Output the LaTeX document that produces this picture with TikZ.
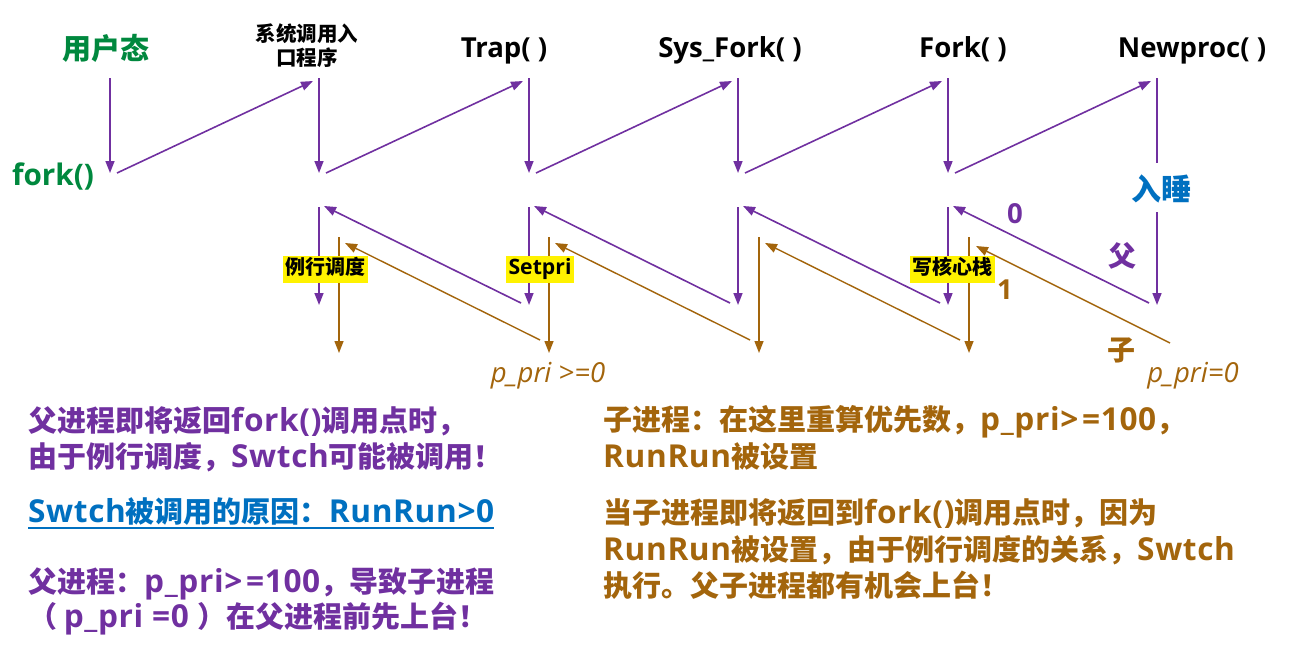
\documentclass[tikz,border=0pt]{standalone}
\usepackage{fontspec}
\usetikzlibrary{arrows.meta}
\setmainfont{Open Sans}[Scale=1.06]
\newfontfamily\cjkf{Noto Sans CJK SC}
\newfontfamily\latf{Open Sans}[Scale=1.06]
\newfontfamily\latw{Open Sans}[Scale=1.09,LetterSpace=2]
\def\mylatin{\latf}
\newXeTeXintercharclass\cjkclass
\newcount\mycnt
\def\setcjkrange#1#2{\mycnt=#1\relax\loop\XeTeXcharclass\mycnt=\cjkclass\relax\ifnum\mycnt<#2\advance\mycnt by 1\relax\repeat}
\setcjkrange{"3000}{"303F}
\setcjkrange{"4E00}{"9FFF}
\setcjkrange{"FF00}{"FF60}
\XeTeXinterchartoks 0 \cjkclass = {\cjkf}
\XeTeXinterchartoks 4095 \cjkclass = {\cjkf}
\XeTeXinterchartoks \cjkclass 0 = {\mylatin}
\XeTeXinterchartoks 4095 0 = {\mylatin}
\XeTeXinterchartokenstate=1
\definecolor{pur}{RGB}{112,48,160}
\definecolor{brn}{RGB}{163,101,12}
\definecolor{grn}{RGB}{0,136,62}
\definecolor{blu}{RGB}{0,112,192}
\tikzset{
  parr/.style={draw=pur, line width=1.6pt, -{Triangle[length=12pt,width=9pt]}},
  pline/.style={draw=pur, line width=1.6pt},
  barr/.style={draw=brn, line width=1.4pt, -{Triangle[length=12pt,width=9pt]}},
  lbl/.style={inner sep=0pt, anchor=base, font=\bfseries\fontsize{26}{30}\selectfont},
  big/.style={inner sep=0pt, anchor=base, font=\bfseries\fontsize{29}{34}\selectfont},
  small/.style={inner sep=0pt, anchor=base, font=\bfseries\fontsize{20.5}{24}\selectfont},
  hl/.style={fill=yellow, inner xsep=2.5pt, inner ysep=4pt, text height=15pt, text depth=4pt, anchor=center, font=\bfseries\fontsize{20}{24}\selectfont},
  itl/.style={inner sep=0pt, anchor=base, text=brn, font=\itshape\fontsize{26}{30}\selectfont},
  txt/.style={inner sep=0pt, anchor=base west, font=\let\mylatin\latw\latw\bfseries\fontsize{29}{35}\selectfont},
}
\begin{document}
\begin{tikzpicture}[x=1pt,y=-1pt]
\useasboundingbox (0,0) rectangle (1292,645);
% ---- top row (purple zigzag)
\foreach \a/\b in {110/319,319/529,529/738,738/948,948/1157} {
  \coordinate (vt\a) at (\a,78);
  \coordinate (vb\a) at (\a,173);
  \coordinate (ds\a) at (\a+7,173);
  \coordinate (de\a) at (\b-6,81);
  \draw[parr] (vt\a) -- (vb\a);
  \draw[parr] (ds\a) -- (de\a);
}
\coordinate (vt1157) at (1157,78);
\coordinate (vb1157) at (1157,163);
\draw[pline] (vt1157) -- (vb1157);
% ---- lower row purple
\foreach \a/\b in {319/529,529/738,738/948,948/1157} {
  \coordinate (lt\a) at (\a,207);
  \coordinate (lb\a) at (\a,305);
  \coordinate (ls\a) at (\b-8,303);
  \coordinate (le\a) at (\a+5,206);
  \draw[parr] (lt\a) -- (lb\a);
  \draw[parr] (ls\a) -- (le\a);
}
\coordinate (lt1157) at (1157,212);
\coordinate (lb1157) at (1157,305);
\draw[parr] (lt1157) -- (lb1157);
% ---- lower row brown
\foreach \a/\b in {339/549,549/759,759/969} {
  \coordinate (bt\a) at (\a,237);
  \coordinate (bb\a) at (\a,353);
  \coordinate (bs\a) at (\b-9,340);
  \coordinate (be\a) at (\a+6,243);
  \draw[barr] (bt\a) -- (bb\a);
  \draw[barr] (bs\a) -- (be\a);
}
\coordinate (bt969) at (969,237);
\coordinate (bb969) at (969,353);
\coordinate (bs969) at (1170,343);
\coordinate (be969) at (976,246);
\draw[barr] (bt969) -- (bb969);
\draw[barr] (bs969) -- (be969);
% ---- top labels
\node[big, text=grn] (user) at (106,59) {用户态};
\node[lbl, text=grn, font=\bfseries\fontsize{28}{32}\selectfont] (fork) at (53,185) {fork()};
\node[small] (sys1) at (307,41) {系统调用入};
\node[small] (sys2) at (307,65) {口程序};
\node[lbl] (trap) at (504,57) {Trap( )};
\node[lbl] (sysfork) at (730,57) {Sys\_Fork( )};
\node[lbl] (forkf) at (963,57) {Fork( )};
\node[lbl] (newproc) at (1192,57) {Newproc( )};
\node[big, text=blu, font=\bfseries\fontsize{30}{34}\selectfont] (sleep) at (1161,200) {入睡};
% ---- middle labels
\node[hl] (sched) at (325,269) {例行调度};
\node[hl] (setpri) at (540,269) {Setpri};
\node[hl] (wstack) at (952,269) {写核心栈};
\node[lbl, text=pur] (zero) at (1015,223) {0};
\node[big, text=pur, font=\bfseries\fontsize{28}{32}\selectfont] (fa) at (1122,266) {父};
\node[lbl, text=brn] (one) at (1005,299) {1};
\node[big, text=brn, font=\bfseries\fontsize{28}{32}\selectfont] (zi) at (1121,360) {子};
\node[itl] (pp1) at (548,382) {p\_pri >=0};
\node[itl] (pp2) at (1193,382) {p\_pri=0};
% ---- bottom left text
\node[txt, text=pur] (l1) at (28,431) {父进程即将返回fork()调用点时，};
\node[txt, text=pur] (l2) at (28,467) {由于例行调度，Swtch可能被调用！};
\node[txt, text=blu] (why) at (28,522) {Swtch被调用的原因：RunRun>0};
\draw[blu, line width=2pt] ([yshift=-6pt]why.base west) -- ([yshift=-6pt]why.base east);
\node[txt, text=pur] (l3) at (28,592) {父进程：p\_pri>\kern0.12em=100，导致子进程};
\node[txt, text=pur] (l4) at (28,627) {（ p\_pri =0 ）在父进程前先上台！};
% ---- bottom right text
\node[txt, text=brn] (r1) at (603,430) {子进程：在这里重算优先数，p\_pri>\kern0.12em=100，};
\node[txt, text=brn] (r2) at (603,467) {RunRun被设置};
\node[txt, text=brn] (r3) at (603,523) {当子进程即将返回到fork()调用点时，因为};
\node[txt, text=brn] (r4) at (603,560) {RunRun被设置，由于例行调度的关系，Swtch};
\node[txt, text=brn] (r5) at (603,596) {执行。父子进程都有机会上台！};
\end{tikzpicture}
\end{document}
